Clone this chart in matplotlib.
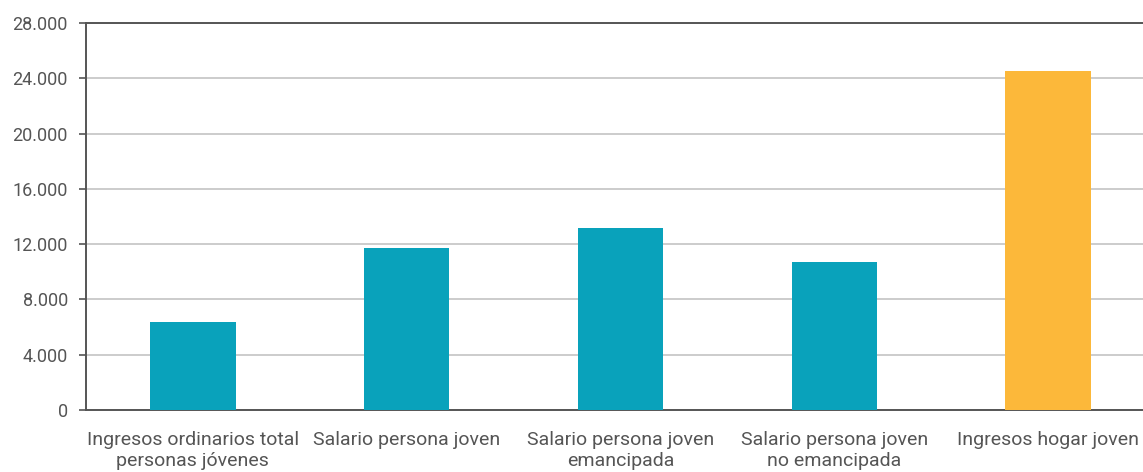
import matplotlib
matplotlib.use("Agg")
import matplotlib.pyplot as plt

categories = [
    "Ingresos ordinarios total\npersonas jóvenes",
    "Salario persona joven",
    "Salario persona joven\nemancipada",
    "Salario persona joven\nno emancipada",
    "Ingresos hogar joven",
]
values = [6370, 11720, 13170, 10710, 24530]
bar_colors = ["#09A2BB", "#09A2BB", "#09A2BB", "#09A2BB", "#FCB83A"]
y_ticks = [0, 4000, 8000, 12000, 16000, 20000, 24000, 28000]
y_tick_labels = ["0", "4.000", "8.000", "12.000", "16.000", "20.000", "24.000", "28.000"]

plt.rcParams['font.family'] = ['Roboto', 'DejaVu Sans']

fig = plt.figure(figsize=(11.43, 4.72), dpi=100)
W, H = 1143, 472
ax = fig.add_axes([86 / W, (H - 410) / H, (W - 86) / W, (410 - 23) / H])

x = list(range(len(categories)))
ax.bar(x, values, width=0.4, color=bar_colors, zorder=3)

ax.set_ylim(0, 28000)
ax.set_xlim(-0.5, 4.5 - 12 / 214)
ax.set_yticks(y_ticks)
ax.set_yticklabels(y_tick_labels)
ax.set_xticks(x)
ax.set_xticklabels(categories, multialignment="center")

ax.grid(axis="y", color="#c8c8c8", linewidth=1.3, zorder=0)
ax.set_axisbelow(True)

for s in ["left", "bottom", "top"]:
    ax.spines[s].set_color("#555555")
    ax.spines[s].set_linewidth(1.4)
ax.spines["right"].set_visible(False)

ax.tick_params(axis="y", length=5, width=1.2, color="#555555", pad=8,
               labelsize=13, labelcolor="#555555")
ax.tick_params(axis="x", length=0, pad=15, labelsize=14, labelcolor="#555555")
for lbl in ax.get_xticklabels():
    lbl.set_linespacing(1.22)

fig.savefig("out.png", dpi=100)
